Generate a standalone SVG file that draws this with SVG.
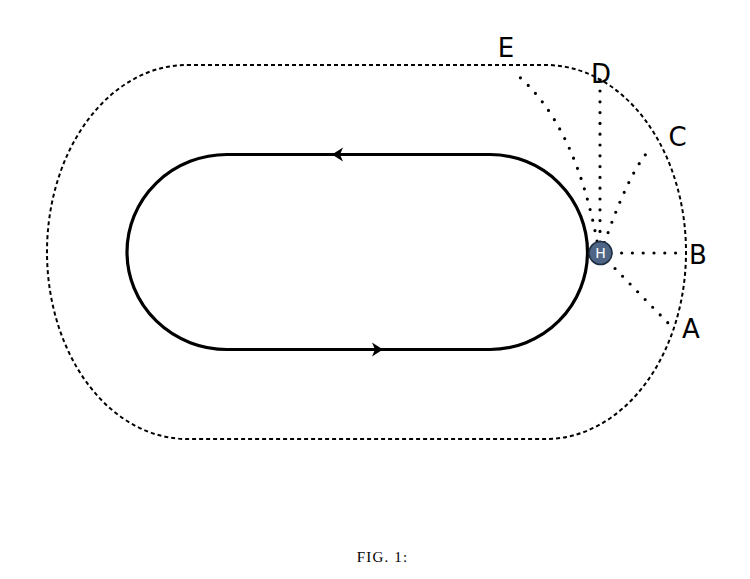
<svg xmlns="http://www.w3.org/2000/svg" width="750" height="579" viewBox="0 0 750 579">
  <style>
    .outer { fill: none; stroke: #000; stroke-width: 2; stroke-dasharray: 4 3; }
    .track { fill: none; stroke: #000; stroke-width: 3.2; }
    .dot { fill: none; stroke: #000; stroke-width: 3.2; stroke-dasharray: 0 10.8; stroke-linecap: round; }
    .lbl { font-family: "DejaVu Sans", "Liberation Sans", sans-serif; font-size: 26px; fill: #000; text-anchor: middle; }
    .cap { font-family: "Liberation Serif", "DejaVu Serif", serif; font-size: 15px; fill: #000; letter-spacing: 1.2px; }
  </style>
  <defs>
    <path id="arrowL" d="M0,0 L11,-7 L8,0 L11,7 Z" fill="#000"/>
  </defs>
  <rect width="750" height="579" fill="#fff"/>

  <g id="outer-boundary">
    <path class="outer" d="M187,65 H546 A140,187 0 0 1 546,439 H187 A140,187 0 0 1 187,65 Z"/>
  </g>

  <g id="track">
    <path class="track" d="M227,154.5 H490 A97.5,97.5 0 0 1 490,349.5 H227 A100,97.5 0 0 1 227,154.5 Z"/>
    <use href="#arrowL" x="332" y="154.5"/>
    <use href="#arrowL" transform="translate(383,349.5) rotate(180)"/>
  </g>

  <g id="connectors">
    <path class="dot" d="M599,252 Q577,122.6 513,71.5"/>
    <path class="dot" d="M600,253 V78"/>
    <path class="dot" d="M601,253 Q628.5,170.5 652,147"/>
    <path class="dot" d="M600,253 H686"/>
    <path class="dot" d="M600,253 L668,323"/>
  </g>

  <g id="node-H">
    <circle cx="600.5" cy="253" r="11.5" fill="#4e6585" stroke="#1f2d40" stroke-width="1.6"/>
    <text x="600.5" y="258.2" font-family="DejaVu Sans, sans-serif" font-size="14" fill="#fff" text-anchor="middle">H</text>
  </g>

  <g id="label-E"><text class="lbl" x="506" y="57">E</text></g>
  <g id="label-D"><text class="lbl" x="601" y="83">D</text></g>
  <g id="label-C"><text class="lbl" x="677.5" y="145.5">C</text></g>
  <g id="label-B"><text class="lbl" x="698" y="263.5">B</text></g>
  <g id="label-A"><text class="lbl" x="691" y="337.5">A</text></g>

  <g id="caption"><text class="cap" x="356.7" y="562.3">FIG. 1:</text></g>
</svg>
